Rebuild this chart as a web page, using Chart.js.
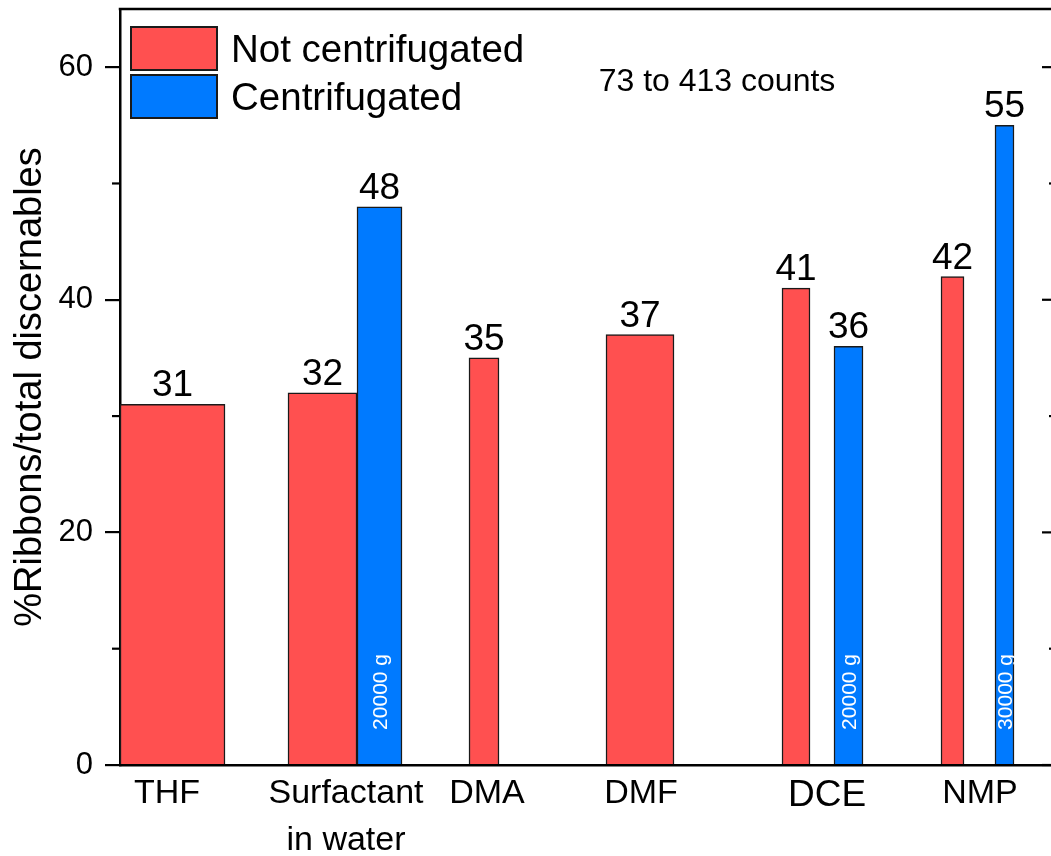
<!DOCTYPE html>
<html>
<head>
<meta charset="utf-8">
<script src="https://cdn.jsdelivr.net/npm/chart.js@4"></script>
<style>
  html, body { margin: 0; padding: 0; background: #fff; overflow: hidden; }
  #wrap { width: 1051px; height: 856px; overflow: hidden; position: relative; }
  canvas { display: block; }
</style>
</head>
<body>
<div id="wrap"><canvas id="c" width="1062" height="856"></canvas></div>
<script>
// ---------- data ----------
const categories = [['THF'], ['Surfactant', 'in water'], ['DMA'], ['DMF'], ['DCE'], ['NMP']];
const seriesNames = ['Not centrifugated', 'Centrifugated'];
const notCentrifugated = [31, 32, 35, 37, 41, 42];
const centrifugated = [null, 48, null, null, 36, 55];
const centrifugeSpeeds = [null, '20000 g', null, null, '20000 g', '30000 g'];
const yMajorTicks = [0, 20, 40, 60];
const yMinorTicks = [10, 30, 50];
const yTitle = '%Ribbons/total discernables';
const noteText = '73 to 413 counts';

// ---------- layout (x axis units, plot width = 937) ----------
const xRange = [0, 937];
const labelCentres = [47, 226, 367, 521, 707, 860];
const redCentres = [52.5, 202.5, 364, 520, 676, 832.5];
const redWidths = [105, 69, 30, 68, 28, 23];
const blueCentres = [null, 259.5, null, null, 728.5, 884.5];
const blueWidths = [null, 45, null, null, 29, 19];

// ---------- styles ----------
const FONT = "'Liberation Sans', Arial, Helvetica, sans-serif";
const RED = '#FF5050';
const BLUE = '#007AFF';
const EDGE = '#1a1a1a';
const seriesColors = [RED, BLUE];

const datasets = [];
categories.forEach((c, i) => {
  if (notCentrifugated[i] != null) {
    datasets.push({
      label: seriesNames[0], seriesIndex: 0, catIndex: i,
      data: [{ x: redCentres[i], y: notCentrifugated[i] }],
      barThickness: redWidths[i], grouped: false,
      backgroundColor: RED, borderColor: EDGE, borderWidth: 1.5
    });
  }
  if (centrifugated[i] != null) {
    datasets.push({
      label: seriesNames[1], seriesIndex: 1, catIndex: i,
      data: [{ x: blueCentres[i], y: centrifugated[i] }],
      barThickness: blueWidths[i], grouped: false,
      backgroundColor: BLUE, borderColor: EDGE, borderWidth: 1.5
    });
  }
});

const decorPlugin = {
  id: 'decor',
  afterDatasetsDraw(chart) {
    const ctx = chart.ctx;
    ctx.save();
    chart.data.datasets.forEach((ds, di) => {
      const meta = chart.getDatasetMeta(di);
      const el = meta.data[0];
      if (!el) return;
      const v = ds.data[0].y;
      ctx.fillStyle = '#000';
      ctx.font = '37px ' + FONT;
      ctx.textAlign = 'center';
      ctx.textBaseline = 'alphabetic';
      ctx.fillText(String(v), el.x, el.y - 8);
      if (ds.seriesIndex === 1 && centrifugeSpeeds[ds.catIndex]) {
        ctx.save();
        ctx.translate(el.x, el.base - 34);
        ctx.rotate(-Math.PI / 2);
        ctx.fillStyle = '#fff';
        ctx.font = '21px ' + FONT;
        ctx.textAlign = 'left';
        ctx.textBaseline = 'alphabetic';
        ctx.fillText(centrifugeSpeeds[ds.catIndex], 0, 7.5);
        ctx.restore();
      }
    });
    ctx.restore();
  },
  afterDraw(chart) {
    const ctx = chart.ctx;
    const a = chart.chartArea;
    const y = chart.scales.y;
    ctx.save();
    ctx.strokeStyle = '#000';
    ctx.lineWidth = 2.5;
    ctx.beginPath();
    ctx.moveTo(a.left - 1.25, a.top);
    ctx.lineTo(a.right + 1.25, a.top);
    ctx.stroke();
    ctx.beginPath();
    ctx.moveTo(a.right, a.top);
    ctx.lineTo(a.right, a.bottom);
    ctx.stroke();
    ctx.lineWidth = 2.2;
    yMinorTicks.forEach(v => {
      const py = y.getPixelForValue(v);
      ctx.beginPath(); ctx.moveTo(a.left - 8, py); ctx.lineTo(a.left, py); ctx.stroke();
      ctx.beginPath(); ctx.moveTo(a.right - 8, py); ctx.lineTo(a.right, py); ctx.stroke();
    });
    yMajorTicks.forEach(v => {
      const py = y.getPixelForValue(v);
      ctx.beginPath(); ctx.moveTo(a.right - 15, py); ctx.lineTo(a.right, py); ctx.stroke();
    });
    const lx = a.left + 11, ly = a.top + 18, bw = 86, bh = 43, gap = 5;
    seriesNames.forEach((name, i) => {
      const by = ly + i * (bh + gap);
      ctx.fillStyle = seriesColors[i];
      ctx.fillRect(lx, by, bw, bh);
      ctx.lineWidth = 2;
      ctx.strokeStyle = EDGE;
      ctx.strokeRect(lx, by, bw, bh);
      ctx.fillStyle = '#000';
      ctx.font = '38.5px ' + FONT;
      ctx.textAlign = 'left';
      ctx.textBaseline = 'alphabetic';
      ctx.fillText(name, lx + bw + 14, by + bh / 2 + 13.6);
    });
    ctx.fillStyle = '#000';
    ctx.font = '32px ' + FONT;
    ctx.textAlign = 'center';
    ctx.textBaseline = 'alphabetic';
    ctx.fillText(noteText, 717, 91);
    ctx.restore();
  }
};

new Chart(document.getElementById('c'), {
  type: 'bar',
  data: { datasets },
  options: {
    responsive: false,
    animation: false,
    layout: { padding: { top: 9, right: 5, left: 0, bottom: 0 } },
    plugins: { legend: { display: false }, tooltip: { enabled: false } },
    scales: {
      x: {
        type: 'linear',
        min: xRange[0], max: xRange[1],
        position: 'bottom',
        offset: false,
        afterBuildTicks: s => { s.ticks = labelCentres.map(v => ({ value: v })); },
        afterFit: s => { s.height = 91; s.paddingLeft = 0; s.paddingRight = 0; },
        ticks: {
          autoSkip: false, maxRotation: 0, minRotation: 0,
          color: '#000',
          padding: -3,
          font: ctx => ({ family: FONT, size: ctx.index === 4 ? 37 : 34, lineHeight: 1.38 }),
          callback: (v, i) => categories[i]
        },
        grid: { display: false },
        border: { display: true, color: '#000', width: 2.5 }
      },
      y: {
        min: 0, max: 65,
        position: 'left',
        afterBuildTicks: s => { s.ticks = yMajorTicks.map(v => ({ value: v })); },
        afterFit: s => { s.width = 120; s.paddingTop = 0; s.paddingBottom = 0; },
        ticks: { color: '#000', padding: 12, font: { family: FONT, size: 31 } },
        grid: { display: true, drawOnChartArea: false, drawTicks: true, tickLength: 15, color: '#000', lineWidth: 2.2 },
        border: { display: true, color: '#000', width: 2.5 },
        title: { display: true, text: yTitle, color: '#000', font: { family: FONT, size: 38 }, padding: { top: 8, bottom: 0 } }
      }
    }
  },
  plugins: [decorPlugin]
});
</script>
</body>
</html>
